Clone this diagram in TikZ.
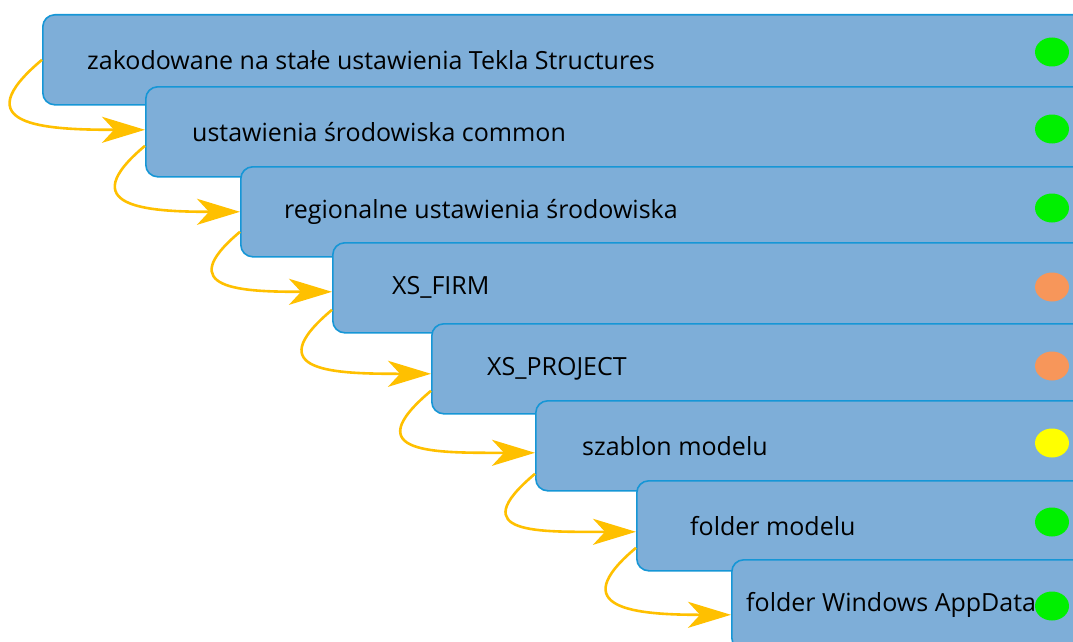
\documentclass[tikz,border=0pt]{standalone}
\usepackage{fontspec}
\setmainfont{Open Sans}
\usetikzlibrary{arrows.meta,positioning,shapes.geometric}
\definecolor{boxfill}{RGB}{126,174,216}
\definecolor{boxline}{RGB}{22,150,214}
\definecolor{flowc}{RGB}{255,192,0}
\definecolor{dotgreen}{RGB}{0,240,0}
\definecolor{dotorange}{RGB}{247,150,90}
\definecolor{dotyellow}{RGB}{255,255,0}

\begin{document}
\begin{tikzpicture}[x=1pt,y=-1pt]
\tikzstyle{layer}=[draw=boxline,fill=boxfill,line width=1.6pt,rounded corners=12pt,anchor=north west,minimum width=1150pt,minimum height=90pt,inner sep=0pt]
\tikzstyle{lbl}=[inner sep=0pt,font=\fontsize{25}{29}\selectfont]
\tikzstyle{dot}=[ellipse,minimum width=34pt,minimum height=29pt,inner sep=0pt]
\tikzstyle{flow}=[draw=flowc,line width=2.6pt,-{Stealth[length=43pt,width=26pt,inset=12pt]},out=220,in=180,looseness=2.1]
\useasboundingbox (0,0) rectangle (1073,642);
\clip (0,0) rectangle (1073,642);
    % layers, top to bottom
    \node[layer] (b1) at (42,14) {};
    \node[layer] (b2) at (145,86) {};
    \node[layer] (b3) at (240,166) {};
    \node[layer] (b4) at (332,242) {};
    \node[layer] (b5) at (431,323) {};
    \node[layer] (b6) at (535,400) {};
    \node[layer] (b7) at (636,480) {};
    \node[layer] (b8) at (731,559) {};
    \node[lbl,right=45pt of b1.west] (t1) {zakodowane na stałe ustawienia Tekla Structures};
    \node[lbl,right=47pt of b2.west] (t2) {ustawienia środowiska common};
    \node[lbl,right=44pt of b3.west] (t3) {regionalne ustawienia środowiska};
    \node[lbl,right=60pt of b4.west] (t4) {XS\_FIRM};
    \node[lbl,right=56pt of b5.west] (t5) {XS\_PROJECT};
    \node[lbl,right=47pt of b6.west] (t6) {szablon modelu};
    \node[lbl,right=54pt of b7.west] (t7) {folder modelu};
    \node[lbl,right=15pt of b8.west] (t8) {folder Windows AppData};
    % status dots
    \node[dot,fill=dotgreen] (d1) at (1052,52) {};
    \node[dot,fill=dotgreen] (d2) at (1052,129) {};
    \node[dot,fill=dotgreen] (d3) at (1052,208) {};
    \node[dot,fill=dotorange] (d4) at (1052,287) {};
    \node[dot,fill=dotorange] (d5) at (1052,366) {};
    \node[dot,fill=dotyellow] (d6) at (1052,443) {};
    \node[dot,fill=dotgreen] (d7) at (1052,522) {};
    \node[dot,fill=dotgreen] (d8) at (1052,606) {};
    % override chain
    \path (b1.west) edge[flow] ([yshift=2pt]b2.west);
    \path ([yshift=-14pt]b2.west) edge[flow] (b3.west);
    \path ([yshift=-20pt]b3.west) edge[flow] ([yshift=-4pt]b4.west);
    \path ([yshift=-22pt]b4.west) edge[flow] ([yshift=-5pt]b5.west);
    \path ([yshift=-22pt]b5.west) edge[flow] ([yshift=-7pt]b6.west);
    \path ([yshift=-28pt]b6.west) edge[flow] ([yshift=-6pt]b7.west);
    \path ([yshift=-22pt]b7.west) edge[flow] ([yshift=-10pt]b8.west);
\end{tikzpicture}
\end{document}
